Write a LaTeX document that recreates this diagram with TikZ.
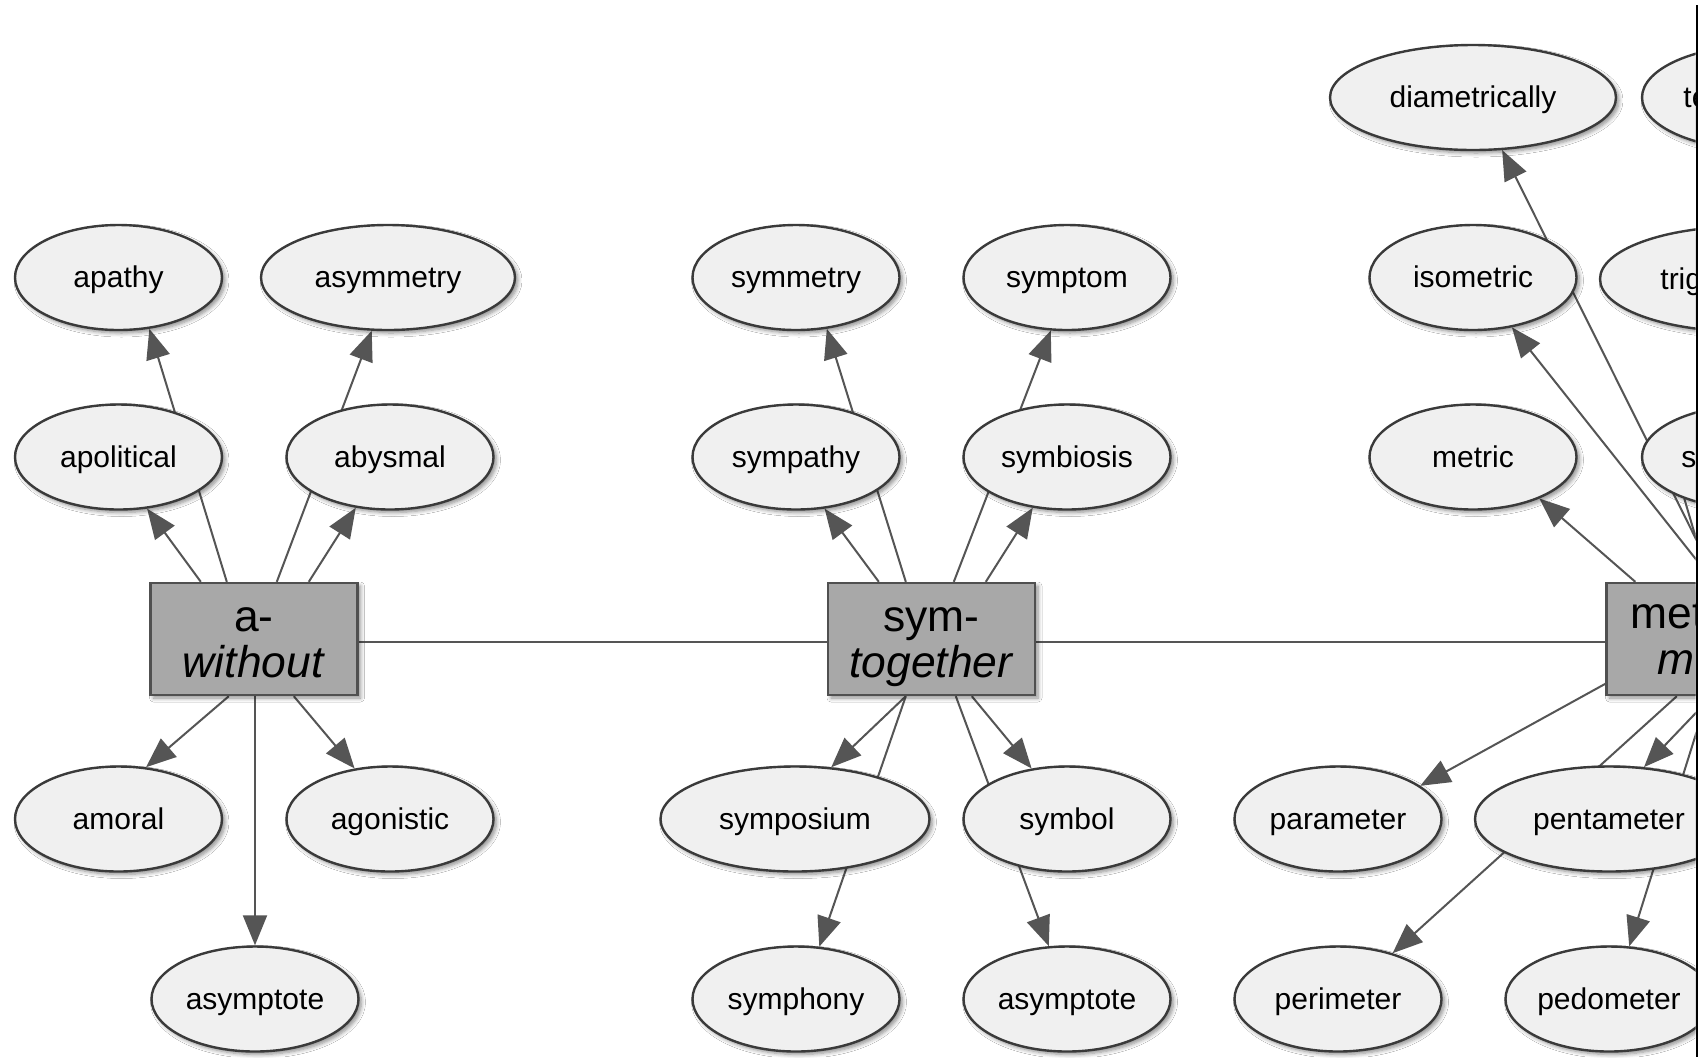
\documentclass[tikz,border=0pt]{standalone}
\usepackage{fontspec}
\setmainfont{Liberation Sans}
\usetikzlibrary{arrows.meta,calc,shapes.geometric,backgrounds,shadows.blur}

\definecolor{leaffill}{RGB}{240,240,240}
\definecolor{leafdraw}{RGB}{58,58,58}
\definecolor{hubfill}{RGB}{168,168,168}
\definecolor{hubdraw}{RGB}{80,80,80}
\definecolor{edgecol}{RGB}{85,85,85}

\tikzset{
  shad/.style={blur shadow={shadow xshift=1.5pt, shadow yshift=-1.5pt, shadow blur radius=2pt, shadow blur steps=6, shadow opacity=45}},
  leaf/.style={ellipse, draw=leafdraw, fill=leaffill, line width=1.2pt, inner sep=0pt,
    minimum width=103.5pt, minimum height=52.5pt, font=\fontsize{15}{18}\selectfont,
    text height=12pt, text depth=2pt, shad},
  hub/.style={rectangle, draw=hubdraw, fill=hubfill, line width=1.2pt, inner sep=0pt,
    minimum width=103.5pt, minimum height=56pt, align=center,
    font=\fontsize{22.2}{23}\selectfont, shad},
  frag/.style={inner sep=0pt, anchor=west, font=\fontsize{15}{18}\selectfont, text height=12pt, text depth=2pt},
  hubfrag/.style={inner sep=0pt, anchor=base west, font=\fontsize{22.2}{23}\selectfont},
  edge/.style={draw=edgecol, line width=1pt},
  arr/.style={edge, -{Triangle[length=15pt,width=12pt]}, fill=edgecol},
}

\begin{document}
\begin{tikzpicture}[x=0.5pt,y=-0.5pt]
\useasboundingbox (0,0) rectangle (1698,1057);
\begin{scope}
\clip (0,0) rectangle (1695.5,1057);

% ---- group a- ----
\node[hub] (a) at (254,639) {\rule{0pt}{20pt}a-\\\textit{without}\rule[-5pt]{0pt}{5pt}};
\node[leaf] (apathy) at (118.5,277.5) {apathy};
\node[leaf, minimum width=127pt] (asymmetry) at (388,277.5) {asymmetry};
\node[leaf] (apolitical) at (118.5,457) {apolitical};
\node[leaf] (abysmal) at (390,457) {abysmal};
\node[leaf] (amoral) at (118.5,819) {amoral};
\node[leaf] (agonistic) at (390,819) {agonistic};
\node[leaf] (asymA) at (255,999) {asymptote};

% ---- group sym- ----
\node[hub] (sym) at (931.5,639) {\rule{0pt}{20pt}sym-\\\textit{together}\rule[-5pt]{0pt}{5pt}};
\node[leaf] (symmetry) at (796,277.5) {symmetry};
\node[leaf] (symptom) at (1067,277.5) {symptom};
\node[leaf] (sympathy) at (796,457) {sympathy};
\node[leaf] (symbiosis) at (1067,457) {symbiosis};
\node[leaf, minimum width=134.5pt] (symposium) at (795,819) {symposium};
\node[leaf] (symbol) at (1067,819) {symbol};
\node[leaf] (symphony) at (796,999) {symphony};
\node[leaf] (asymB) at (1067,999) {asymptote};

% ---- group met- (cut at the right edge) ----
\node[hub] (met) at (1710,639) {};
\node[hubfrag] (metA) at (1630,628) {met};
\node[hubfrag] (metB) at (1657,674) {\textit{m}};
\node[leaf, minimum width=143pt] (diam) at (1473,97.5) {diametrically};
\node[leaf, minimum width=120pt] (te) at (1762,97.5) {};
\node[frag] (teT) at (1683,97.5) {te};
\node[leaf] (isometric) at (1473,277.5) {isometric};
\node[leaf, minimum width=143pt] (trig) at (1743,279) {};
\node[frag] (trigT) at (1660,279) {trig};
\node[leaf] (metric) at (1473,457) {metric};
\node[leaf, minimum width=115pt] (s) at (1757,457) {};
\node[frag] (sT) at (1681,457) {s};
\node[leaf] (parameter) at (1338,819) {parameter};
\node[leaf, minimum width=134pt] (pentameter) at (1609,819) {pentameter};
\node[leaf] (perimeter) at (1338,999) {perimeter};
\node[leaf] (pedometer) at (1609,999) {pedometer};

\begin{pgfonlayer}{background}
\fill[white] (0,0) rectangle (1698,1057);
\clip (0,0) rectangle (1695.5,1057);
\draw[edge] ([yshift=-1.5pt]a.east) -- ([yshift=-1.5pt]sym.west);
\draw[edge] ([yshift=-1.5pt]sym.east) -- ([yshift=-1.5pt]met.west);
% a-
\draw[arr] ($(a.north west)+(51.5,0)$) -- (apolitical.-61.4);
\draw[arr] ($(a.north west)+(77.5,0)$) -- (apathy.-59);
\draw[arr] ($(a.north west)+(127.5,0)$) -- (asymmetry.-107);
\draw[arr] ($(a.north west)+(159.5,0)$) -- (abysmal.-124.5);
\draw[arr] ($(a.south west)+(79.5,0)$) -- (amoral.62.6);
\draw[arr] (a.south -| asymA.north) -- (asymA.north);
\draw[arr] ($(a.south west)+(144.5,0)$) -- (agonistic.125.1);
% sym-
\draw[arr] ($(sym.north west)+(52,0)$) -- (sympathy.-61.4);
\draw[arr] ($(sym.north west)+(79,0)$) -- (symmetry.-59);
\draw[arr] ($(sym.north west)+(127,0)$) -- (symptom.-107);
\draw[arr] ($(sym.north west)+(159,0)$) -- (symbiosis.-124.5);
\draw[arr] ($(sym.south west)+(79,0)$) -- (symposium.55.8);
\draw[arr] ($(sym.south west)+(79,0)$) -- (symphony.66);
\draw[arr] ($(sym.south west)+(129,0)$) -- (asymB.109.4);
\draw[arr] ($(sym.south west)+(145,0)$) -- (symbol.125.6);
% met-
\draw[arr] ($(met.north west)+(30,0)$) -- (metric.-32.7);
\draw[arr] ($(met.north west)+(108.5,0)$) -- (isometric.-52.7);
\draw[arr] ($(met.north west)+(112,0)$) -- (diam.-61.2);
\draw[edge] ($(met.north west)+(103.5,0)$) -- (s.-150.5);
\draw[arr] ($(met.north west)+(0,102)$) -- (parameter.22.7);
\draw[arr] ($(met.south west)+(71.5,0)$) -- (perimeter.40.1);
\draw[arr] ($(met.south west)+(106.5,0)$) -- (pentameter.56.3);
\draw[arr] ($(met.south west)+(102.5,0)$) -- (pedometer.69);
\end{pgfonlayer}
\end{scope}
\draw[black, line width=1.25pt] (1696.75,5) -- (1696.75,1057);
\end{tikzpicture}
\end{document}
